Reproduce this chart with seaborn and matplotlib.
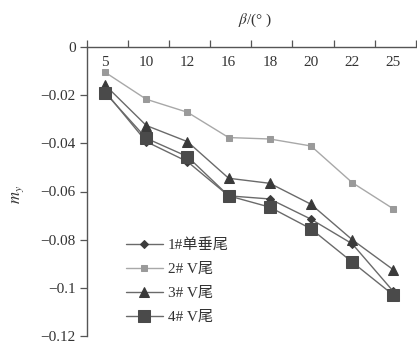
import matplotlib
matplotlib.use("Agg")
import matplotlib.pyplot as plt
import seaborn as sns
import pandas as pd

# sideslip angle categories (deg) and yawing-moment coefficients
beta = ["5", "10", "12", "16", "18", "20", "22", "25"]
tail_1 = [-0.0185, -0.0393, -0.0476, -0.0618, -0.0631, -0.0715, -0.0817, -0.1015]
tail_2 = [-0.0105, -0.0217, -0.0271, -0.0376, -0.0382, -0.0411, -0.0563, -0.0672]
tail_3 = [-0.0158, -0.0326, -0.0393, -0.0545, -0.0566, -0.0653, -0.0800, -0.0925]
tail_4 = [-0.0190, -0.0379, -0.0455, -0.0618, -0.0665, -0.0755, -0.0893, -0.1030]
names = ["1#单垂尾", "2# V尾", "3# V尾", "4# V尾"]
y_ticks = [0, -0.02, -0.04, -0.06, -0.08, -0.1, -0.12]
y_labels = ["0", "\u22120.02", "\u22120.04", "\u22120.06", "\u22120.08", "\u22120.1", "\u22120.12"]

sns.set_style("ticks")
plt.rcParams["font.family"] = ["Liberation Serif", "Noto Sans CJK SC"]
plt.rcParams["mathtext.fontset"] = "stix"

fig = plt.figure(figsize=(4.17, 3.45), dpi=100)
ax = fig.add_axes([87 / 417, 9 / 345, 329 / 417, 289 / 345])

styles = [
    dict(marker="D", markersize=4.5, color="#3c3c3c"),
    dict(marker="s", markersize=5.0, color="#9a9a9a"),
    dict(marker="^", markersize=6.5, color="#3a3a3a"),
    dict(marker="s", markersize=8.5, color="#4a4a4a"),
]
line_colors = ["#6a6a6a", "#a8a8a8", "#6a6a6a", "#6a6a6a"]

series = [tail_1, tail_2, tail_3, tail_4]
df = pd.DataFrame({"beta": beta})
for name, vals, st, lc in zip(names, series, styles, line_colors):
    df[name] = vals
    sns.lineplot(data=df, x="beta", y=name, ax=ax, color=lc, linewidth=1.0,
                 marker=st["marker"], markersize=st["markersize"],
                 markerfacecolor=st["color"], markeredgecolor=st["color"],
                 label=name, sort=False)

ax.set_ylim(-0.12, 0)
ax.set_xlim(-0.44, 7.55)
ax.set_yticks(y_ticks)
ax.set_yticklabels(y_labels, fontsize=11, color="#333333")
ax.tick_params(axis="y", direction="out", length=5, width=0.9, color="#555555", pad=3)

# category labels sit inside the frame under the top axis; ticks mark boundaries
ax.xaxis.tick_top()
ax.set_xticks(range(len(beta)))
ax.set_xticklabels(beta, fontsize=11, color="#333333")
ax.tick_params(axis="x", which="major", length=0, pad=-16, top=True, bottom=False)
ax.set_xticks([-0.44] + [i + 0.55 for i in range(len(beta))], minor=True)
ax.tick_params(axis="x", which="minor", direction="out", length=5, width=0.9,
               color="#555555", top=True, bottom=False)

for s in ["right", "bottom"]:
    ax.spines[s].set_visible(False)
for s in ["left", "top"]:
    ax.spines[s].set_color("#555555")
    ax.spines[s].set_linewidth(1.0)

ax.set_xlabel("")
ax.set_ylabel("")
fig.text(255 / 417, 1 - 20 / 345, r"$\beta$/(° )", ha="center", va="center",
         fontsize=11, color="#333333")
fig.text(18 / 417, 1 - 195 / 345, r"$m_y$", ha="center", va="center",
         rotation=90, fontsize=12, color="#333333")

leg = ax.legend(loc="upper left", bbox_to_anchor=(0.1, 0.36), frameon=False,
                fontsize=11, handlelength=2.4, handletextpad=0.35,
                labelspacing=0.68, borderaxespad=0)
for t in leg.get_texts():
    t.set_color("#333333")

fig.savefig("out.png", dpi=100)
